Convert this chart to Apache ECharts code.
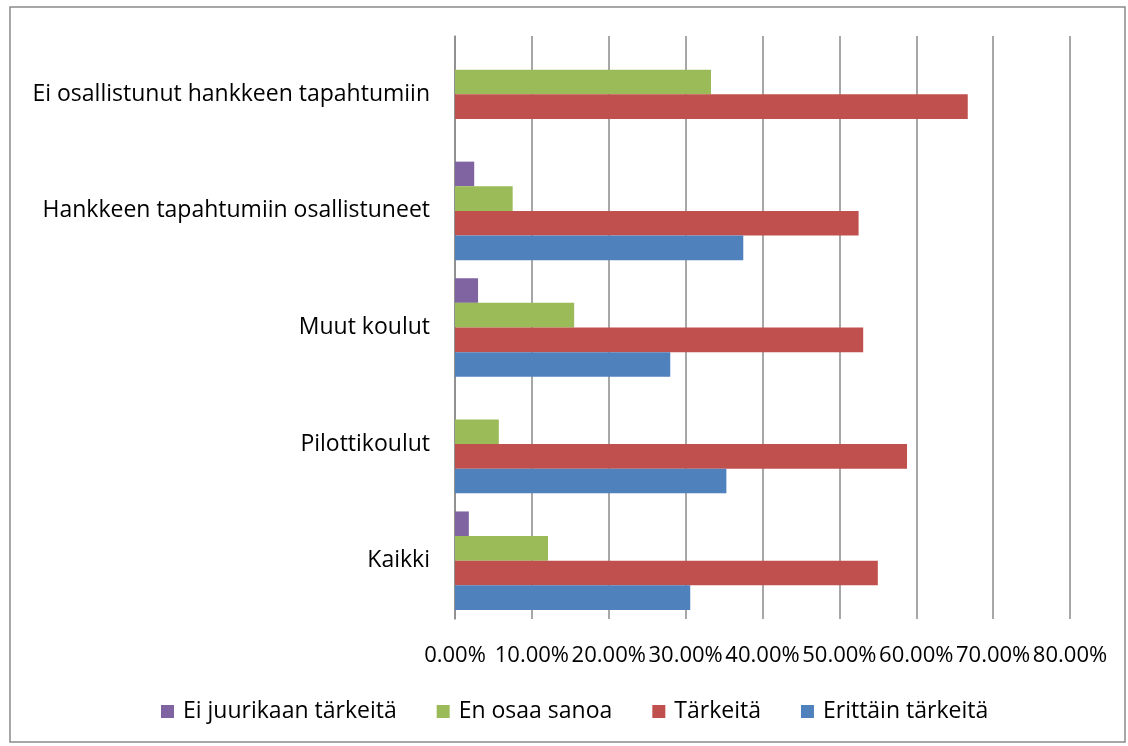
<!DOCTYPE html>
<html>
<head>
<meta charset="utf-8">
<script src="https://cdn.jsdelivr.net/npm/echarts@6/dist/echarts.min.js"></script>
<style>
  html, body { margin: 0; padding: 0; background: #fff; }
  #chart { width: 1128px; height: 746px; }
</style>
</head>
<body>
<div id="chart"></div>
<script>
// categories, bottom to top
const categories = ['Kaikki', 'Pilottikoulut', 'Muut koulut', 'Hankkeen tapahtumiin osallistuneet', 'Ei osallistunut hankkeen tapahtumiin']

// values in percent
const erittainTarkeita = [30.6, 35.3, 28.0, 37.5, 0]
const tarkeita = [55.0, 58.8, 53.1, 52.5, 66.7]
const enOsaaSanoa = [12.1, 5.7, 15.5, 7.5, 33.3]
const eiJuurikaanTarkeita = [1.8, 0, 3.0, 2.5, 0]

const legendNames = ['Ei juurikaan tärkeitä', 'En osaa sanoa', 'Tärkeitä', 'Erittäin tärkeitä']

const font = '"Open Sans", sans-serif'

let makeBar = (name, data, color) => ({
  name: name,
  type: 'bar',
  data: data,
  barGap: '0%',
  barCategoryGap: '15.5%',
  itemStyle: { color: color }
})

let option = {
  animation: false,
  textStyle: { fontFamily: font },
  grid: {
    left: 455,
    right: 58,
    top: 36,
    bottom: 127
  },
  legend: {
    data: legendNames,
    left: 156,
    bottom: 18,
    itemWidth: 13,
    itemHeight: 13,
    itemGap: 40,
    icon: 'rect',
    textStyle: { fontSize: 23, color: '#000', fontFamily: font, padding: [0, 0, 0, 4] }
  },
  xAxis: {
    type: 'value',
    min: 0,
    max: 80,
    interval: 10,
    axisLine: { show: false },
    axisTick: { show: false },
    splitLine: { lineStyle: { color: '#8a8a8a', width: 1.5 } },
    axisLabel: {
      margin: 26,
      fontSize: 22,
      color: '#000',
      fontFamily: font,
      formatter: v => v.toFixed(2) + '%'
    }
  },
  yAxis: {
    type: 'category',
    data: categories,
    axisLine: { lineStyle: { color: '#8a8a8a', width: 1.5 } },
    axisTick: { show: false },
    axisLabel: { margin: 25, fontSize: 23, color: '#000', fontFamily: font }
  },
  graphic: [{
    type: 'rect',
    shape: { x: 10, y: 7, width: 1115, height: 735 },
    style: { fill: null, stroke: '#8a8a8a', lineWidth: 1.5 },
    silent: true
  }],
  // in a horizontal bar chart the first series sits on top of each group
  series: [
    makeBar('Ei juurikaan tärkeitä', eiJuurikaanTarkeita, '#8064A2'),
    makeBar('En osaa sanoa', enOsaaSanoa, '#9BBB59'),
    makeBar('Tärkeitä', tarkeita, '#C0504D'),
    makeBar('Erittäin tärkeitä', erittainTarkeita, '#4F81BD')
  ]
}

let chart = echarts.init(document.getElementById('chart'))
chart.setOption(option)
</script>
</body>
</html>
